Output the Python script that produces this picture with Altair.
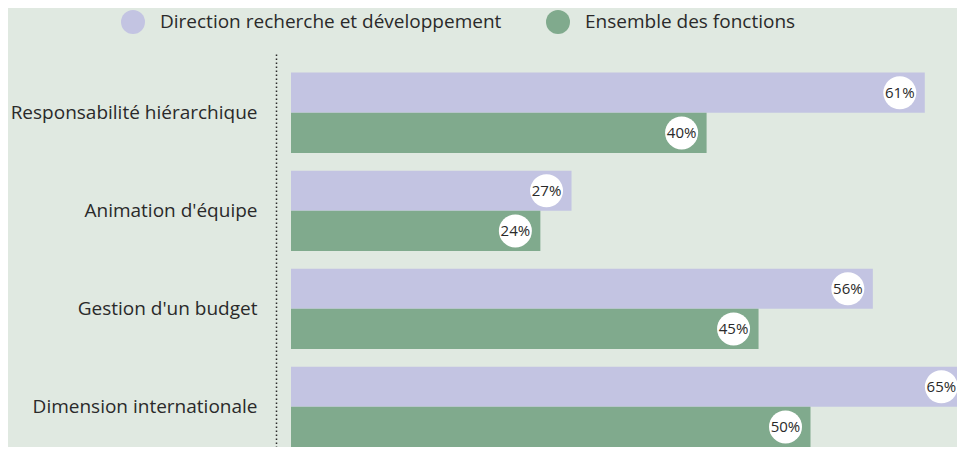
import altair as alt
import pandas as pd

categories = ["Responsabilité hiérarchique", "Animation d'équipe",
              "Gestion d'un budget", "Dimension internationale"]
series = ["Direction recherche et développement", "Ensemble des fonctions"]
rd_values = [61, 27, 56, 65]
all_values = [40, 24, 45, 50]
colors = ["#c3c4e2", "#80aa8d"]

FONT = "Open Sans"
TEXT = "#2a2a2a"
BG = "#e0e9e1"

rows = []
for c, a, b in zip(categories, rd_values, all_values):
    rows.append({"cat": c, "series": series[0], "value": a, "label": f"{a}%"})
    rows.append({"cat": c, "series": series[1], "value": b, "label": f"{b}%"})
df = pd.DataFrame(rows)

y = alt.Y(
    "cat:N", sort=categories, title=None,
    scale=alt.Scale(paddingInner=0.18, paddingOuter=0.095, align=1),
    axis=alt.Axis(domain=True, domainDash=[1.5, 2.5], domainColor=TEXT,
                  domainWidth=1.5, offset=15, ticks=False, labelPadding=19,
                  labelFontSize=19, labelFont=FONT, labelColor=TEXT,
                  grid=False, labelLimit=400),
)
yoff = alt.YOffset("series:N", sort=series,
                   scale=alt.Scale(paddingInner=0, paddingOuter=0))
x = alt.X("value:Q", scale=alt.Scale(domain=[0, 64.1], nice=False, zero=True),
          axis=None)

bars = alt.Chart(df).mark_bar(clip=True).encode(
    x=x, y=y, yOffset=yoff,
    color=alt.Color(
        "series:N", sort=series,
        scale=alt.Scale(domain=series, range=colors),
        legend=alt.Legend(orient="none", legendX=-170, legendY=-44,
                          direction="horizontal", title=None,
                          symbolType="circle", symbolSize=576,
                          symbolStrokeWidth=0, symbolOpacity=1,
                          labelFontSize=19, labelFont=FONT, labelColor=TEXT,
                          columnPadding=44, labelOffset=15, labelLimit=500),
    ),
)
circles = alt.Chart(df).mark_circle(color="white", opacity=1, size=1089,
                                     xOffset=-25).encode(x=x, y=y, yOffset=yoff)
texts = alt.Chart(df).mark_text(xOffset=-25, fontSize=15, font=FONT,
                                color=TEXT).encode(
    x=x, y=y, yOffset=yoff, text="label:N")

chart = alt.layer(bars, circles, texts).properties(
    width=666, height=393, autosize="none",
    padding={"left": 283, "top": 46, "right": 0, "bottom": 0},
    background=BG,
).configure_view(stroke=None)

chart.save("out.html", embed_options={"renderer": "svg", "actions": False})
